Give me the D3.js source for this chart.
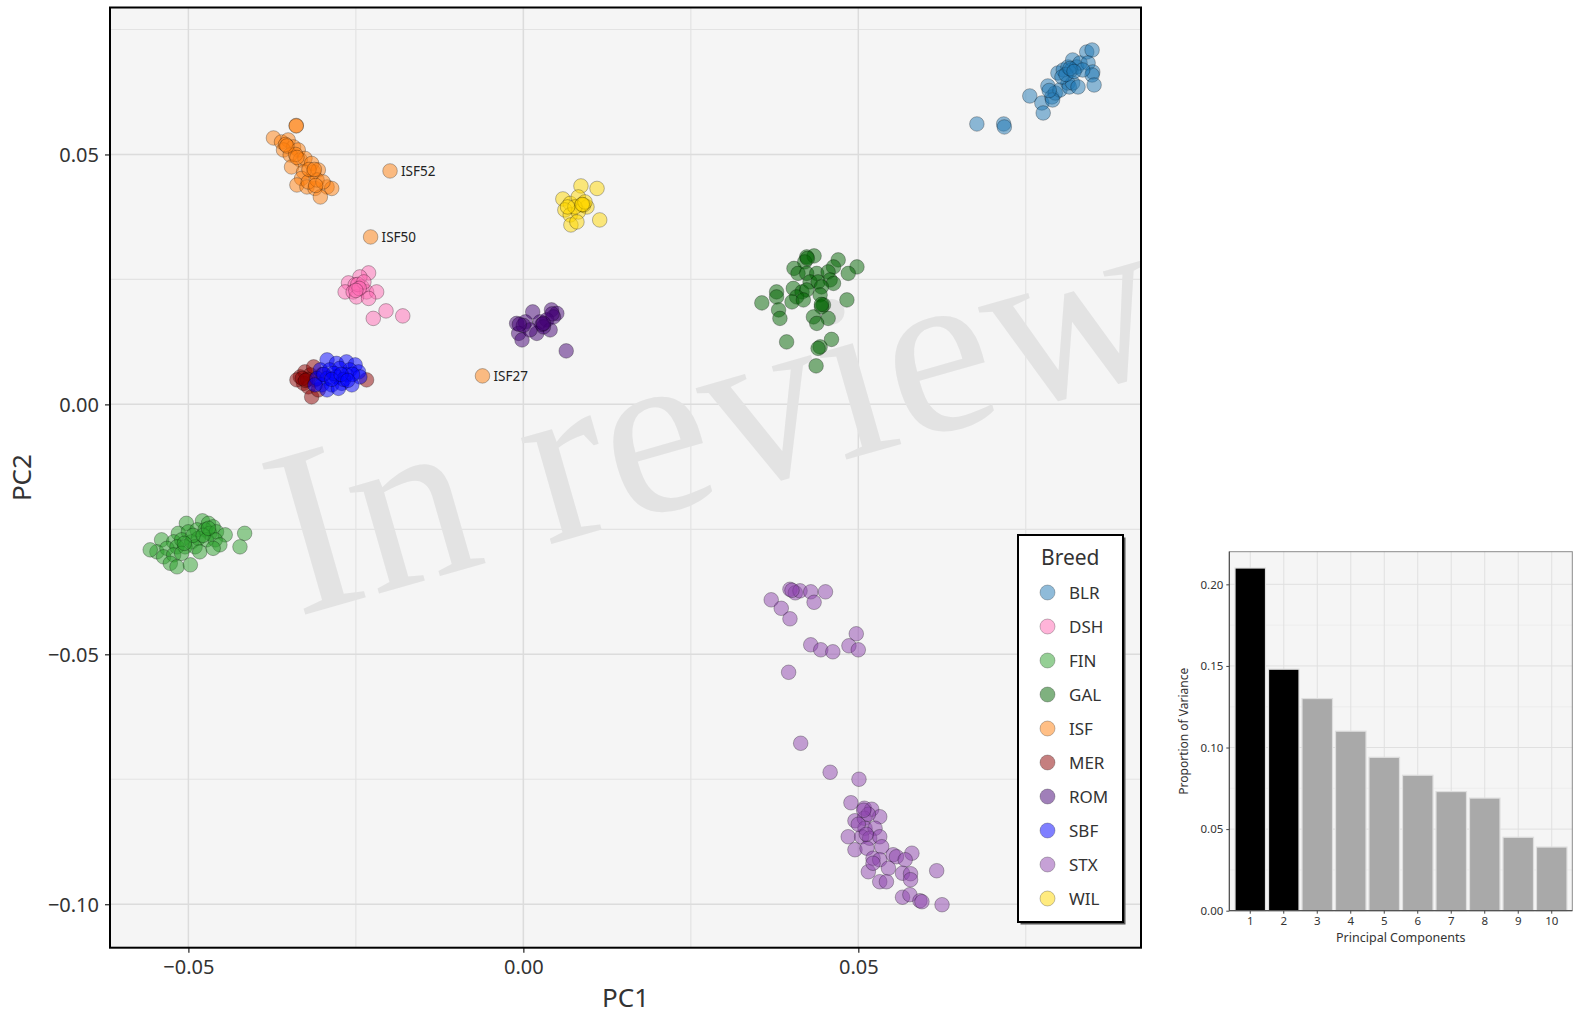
<!DOCTYPE html>
<html>
<head>
<meta charset="utf-8">
<script src="https://cdn.jsdelivr.net/npm/d3@7"></script>
<style>
  body { margin: 0; background: #fff; }
  text { font-family: 'Noto Sans', sans-serif; }
</style>
</head>
<body>
<div id="chart"></div>
<script>
// ---- data ----
const breeds = ['BLR', 'DSH', 'FIN', 'GAL', 'ISF', 'MER', 'ROM', 'SBF', 'STX', 'WIL'];

const blrPoints = [[0.0677,0.0561],[0.0717,0.0561],[0.0718,0.0555],[0.0756,0.0617],[0.0774,0.0603],[0.0776,0.0583],[0.0783,0.0637],[0.0789,0.0615],[0.0794,0.0623],[0.0801,0.0629],[0.0790,0.0609],[0.0798,0.0663],[0.0806,0.0669],[0.0813,0.0675],[0.0820,0.0689],[0.0818,0.0669],[0.0826,0.0675],[0.0831,0.0683],[0.0813,0.0643],[0.0815,0.0635],[0.0820,0.0643],[0.0828,0.0635],[0.0841,0.0705],[0.0849,0.0709],[0.0843,0.0683],[0.0850,0.0665],[0.0849,0.0659],[0.0852,0.0639],[0.0835,0.0669],[0.0804,0.0655],[0.0785,0.0628],[0.0810,0.0660],[0.0816,0.0672],[0.0822,0.0666]];

const dshPoints = [[-0.0231,0.0263],[-0.0244,0.0255],[-0.0261,0.0243],[-0.0251,0.0239],[-0.0241,0.0235],[-0.0266,0.0225],[-0.0254,0.0225],[-0.0234,0.0225],[-0.0219,0.0225],[-0.0249,0.0215],[-0.0231,0.0212],[-0.0224,0.0172],[-0.0205,0.0187],[-0.0180,0.0177],[-0.0247,0.0240],[-0.0238,0.0245],[-0.0245,0.0232],[-0.0250,0.0228]];

const finPoints = [[-0.0503,-0.0238],[-0.0479,-0.0233],[-0.0470,-0.0238],[-0.0463,-0.0245],[-0.0515,-0.0258],[-0.0500,-0.0255],[-0.0487,-0.0251],[-0.0475,-0.0251],[-0.0468,-0.0258],[-0.0458,-0.0255],[-0.0445,-0.0261],[-0.0416,-0.0258],[-0.0540,-0.0271],[-0.0522,-0.0275],[-0.0510,-0.0271],[-0.0495,-0.0275],[-0.0485,-0.0268],[-0.0473,-0.0271],[-0.0460,-0.0271],[-0.0453,-0.0281],[-0.0547,-0.0295],[-0.0532,-0.0288],[-0.0517,-0.0285],[-0.0505,-0.0285],[-0.0490,-0.0285],[-0.0483,-0.0295],[-0.0463,-0.0288],[-0.0423,-0.0285],[-0.0537,-0.0305],[-0.0522,-0.0301],[-0.0510,-0.0298],[-0.0527,-0.0318],[-0.0517,-0.0325],[-0.0497,-0.0321],[-0.0557,-0.0291],[-0.0493,-0.0262],[-0.0478,-0.0262],[-0.0506,-0.0278],[-0.0470,-0.0248]];

const galPoints = [[0.0423,0.0295],[0.0434,0.0297],[0.0420,0.0285],[0.0470,0.0289],[0.0498,0.0275],[0.0404,0.0272],[0.0463,0.0275],[0.0485,0.0262],[0.0410,0.0262],[0.0423,0.0262],[0.0438,0.0262],[0.0455,0.0265],[0.0458,0.0249],[0.0428,0.0245],[0.0440,0.0245],[0.0463,0.0242],[0.0403,0.0232],[0.0378,0.0225],[0.0445,0.0235],[0.0416,0.0225],[0.0423,0.0229],[0.0443,0.0219],[0.0408,0.0215],[0.0378,0.0215],[0.0401,0.0205],[0.0356,0.0203],[0.0418,0.0209],[0.0483,0.0209],[0.0448,0.0199],[0.0381,0.0189],[0.0445,0.0195],[0.0383,0.0172],[0.0433,0.0175],[0.0455,0.0172],[0.0438,0.0162],[0.0393,0.0125],[0.0460,0.0130],[0.0443,0.0115],[0.0440,0.0112],[0.0437,0.0077],[0.0424,0.0292],[0.0445,0.0200]];

const isfPoints = [[-0.0339,0.0558],[-0.0373,0.0533],[-0.0361,0.0525],[-0.0351,0.0529],[-0.0343,0.0515],[-0.0358,0.0509],[-0.0336,0.0509],[-0.0348,0.0499],[-0.0333,0.0489],[-0.0326,0.0492],[-0.0346,0.0475],[-0.0316,0.0482],[-0.0313,0.0465],[-0.0306,0.0469],[-0.0328,0.0465],[-0.0331,0.0452],[-0.0338,0.0439],[-0.0323,0.0435],[-0.0311,0.0432],[-0.0293,0.0435],[-0.0286,0.0432],[-0.0303,0.0415],[-0.0321,0.0445],[-0.0308,0.0449],[-0.0299,0.0445],[-0.0355,0.0520],[-0.0340,0.0500],[-0.0320,0.0470],[-0.0353,0.0517],[-0.0338,0.0494],[-0.0312,0.0470],[-0.0310,0.0438],[-0.0339,0.0557],[-0.0199,0.0467],[-0.0228,0.0335],[-0.0061,0.0057]];

const merPoints = [[-0.0333,0.0055],[-0.0326,0.0065],[-0.0318,0.0059],[-0.0328,0.0042],[-0.0321,0.0035],[-0.0316,0.0015],[-0.0311,0.0049],[-0.0306,0.0029],[-0.0234,0.0049],[-0.0313,0.0075],[-0.0338,0.0049],[-0.0322,0.0050],[-0.0300,0.0060],[-0.0330,0.0052],[-0.0325,0.0048]];

const romPoints = [[0.0014,0.0185],[0.0042,0.0189],[0.0050,0.0182],[-0.0010,0.0162],[0.0003,0.0165],[0.0025,0.0165],[0.0035,0.0169],[0.0040,0.0149],[0.0020,0.0142],[-0.0007,0.0142],[-0.0002,0.0129],[0.0064,0.0107],[0.0030,0.0155],[0.0010,0.0149],[0.0045,0.0175],[0.0000,0.0158],[0.0028,0.0160],[0.0043,0.0181],[-0.0006,0.0160],[0.0030,0.0162]];

const sbfPoints = [[-0.0293,0.0089],[-0.0279,0.0082],[-0.0264,0.0085],[-0.0251,0.0079],[-0.0303,0.0069],[-0.0289,0.0069],[-0.0274,0.0072],[-0.0259,0.0069],[-0.0246,0.0065],[-0.0308,0.0052],[-0.0293,0.0052],[-0.0279,0.0055],[-0.0264,0.0059],[-0.0244,0.0055],[-0.0301,0.0039],[-0.0286,0.0039],[-0.0271,0.0042],[-0.0256,0.0039],[-0.0293,0.0029],[-0.0276,0.0032],[-0.0311,0.0039],[-0.0283,0.0062],[-0.0268,0.0050],[-0.0298,0.0060],[-0.0255,0.0060],[-0.0286,0.0050],[-0.0272,0.0060],[-0.0262,0.0048]];

const stxPoints = [[0.0398,-0.0370],[0.0406,-0.0377],[0.0413,-0.0373],[0.0429,-0.0375],[0.0451,-0.0375],[0.0370,-0.0391],[0.0434,-0.0396],[0.0385,-0.0408],[0.0398,-0.0429],[0.0497,-0.0459],[0.0429,-0.0481],[0.0444,-0.0491],[0.0462,-0.0495],[0.0486,-0.0483],[0.0500,-0.0491],[0.0396,-0.0536],[0.0414,-0.0678],[0.0458,-0.0736],[0.0501,-0.0750],[0.0489,-0.0797],[0.0509,-0.0808],[0.0520,-0.0810],[0.0532,-0.0825],[0.0495,-0.0833],[0.0509,-0.0828],[0.0510,-0.0848],[0.0525,-0.0848],[0.0485,-0.0865],[0.0505,-0.0865],[0.0517,-0.0868],[0.0532,-0.0865],[0.0495,-0.0891],[0.0513,-0.0888],[0.0535,-0.0885],[0.0522,-0.0908],[0.0532,-0.0911],[0.0552,-0.0901],[0.0557,-0.0905],[0.0580,-0.0898],[0.0570,-0.0911],[0.0515,-0.0935],[0.0545,-0.0928],[0.0532,-0.0955],[0.0542,-0.0955],[0.0566,-0.0938],[0.0578,-0.0939],[0.0578,-0.0951],[0.0617,-0.0933],[0.0566,-0.0986],[0.0577,-0.0981],[0.0592,-0.0993],[0.0595,-0.0995],[0.0625,-0.1001],[0.0522,-0.0918],[0.0500,-0.0840],[0.0515,-0.0820],[0.0508,-0.0812],[0.0512,-0.0860],[0.0401,-0.0372]];

const wilPoints = [[0.0086,0.0437],[0.0110,0.0432],[0.0059,0.0411],[0.0070,0.0402],[0.0082,0.0415],[0.0087,0.0399],[0.0095,0.0395],[0.0062,0.0389],[0.0070,0.0379],[0.0082,0.0385],[0.0114,0.0369],[0.0071,0.0359],[0.0080,0.0365],[0.0090,0.0399],[0.0077,0.0395],[0.0092,0.0405],[0.0066,0.0395],[0.0088,0.0400]];

const breedPoints = [blrPoints, dshPoints, finPoints, galPoints, isfPoints, merPoints, romPoints, sbfPoints, stxPoints, wilPoints];

// labelled ISF outliers
const isfLabelNames = ['ISF52', 'ISF50', 'ISF27'];
const isfLabelPoints = [[-0.0199,0.0467],[-0.0228,0.0335],[-0.0061,0.0057]];

const pcTicksX = [-0.05, 0, 0.05];
const pcTicksY = [-0.10, -0.05, 0, 0.05];
const pcMinorX = [-0.025, 0.025, 0.075];
const pcMinorY = [-0.075, -0.025, 0.025, 0.075];

// scree plot
const components = ['1','2','3','4','5','6','7','8','9','10'];
const varianceValues = [0.210, 0.148, 0.130, 0.110, 0.094, 0.083, 0.073, 0.069, 0.045, 0.039];
const varTicks = [0, 0.05, 0.10, 0.15, 0.20];
const varMinor = [0.025, 0.075, 0.125, 0.175];

// ---- chart ----
const colorScale = d3.scaleOrdinal()
    .domain(breeds)
    .range(['#1f77b4', '#ff69b4', '#2ca02c', '#006400', '#ff7f0e', '#8b0000', '#420073', '#0000ff', '#8e44ad', '#ffd700']);

const svg = d3.select('#chart')
    .append('svg')
    .attr('width', 1576)
    .attr('height', 1015);

const margin = { top: 7.5, left: 110 };
const width = 1031;
const height = 940.2;

const xScale = d3.scaleLinear().domain([-0.0617, 0.0922]).range([margin.left, margin.left + width]);
const yScale = d3.scaleLinear().domain([-0.1087, 0.0794]).range([margin.top + height, margin.top]);

svg.append('defs').append('clipPath').attr('id', 'panel-clip')
    .append('rect')
    .attr('x', margin.left).attr('y', margin.top)
    .attr('width', width).attr('height', height);

svg.append('rect')
    .attr('x', margin.left).attr('y', margin.top)
    .attr('width', width).attr('height', height)
    .style('fill', '#f5f5f5');

// gridlines
const grid = svg.append('g');
grid.selectAll('.vminor').data(pcMinorX).enter().append('line')
    .attr('x1', d => xScale(d)).attr('x2', d => xScale(d))
    .attr('y1', margin.top).attr('y2', margin.top + height)
    .style('stroke', '#e3e3e3').style('stroke-width', 1.2);
grid.selectAll('.hminor').data(pcMinorY).enter().append('line')
    .attr('y1', d => yScale(d)).attr('y2', d => yScale(d))
    .attr('x1', margin.left).attr('x2', margin.left + width)
    .style('stroke', '#e3e3e3').style('stroke-width', 1.2);
grid.selectAll('.vmajor').data(pcTicksX).enter().append('line')
    .attr('x1', d => xScale(d)).attr('x2', d => xScale(d))
    .attr('y1', margin.top).attr('y2', margin.top + height)
    .style('stroke', '#dcdcdc').style('stroke-width', 1.5);
grid.selectAll('.hmajor').data(pcTicksY).enter().append('line')
    .attr('y1', d => yScale(d)).attr('y2', d => yScale(d))
    .attr('x1', margin.left).attr('x2', margin.left + width)
    .style('stroke', '#dcdcdc').style('stroke-width', 1.5);

// watermark
svg.append('g')
    .attr('clip-path', 'url(#panel-clip)')
    .append('text')
    .attr('transform', 'translate(297,617) rotate(-16)')
    .style('font-family', '"Liberation Serif", "DejaVu Serif", serif')
    .style('font-size', '240px')
    .style('fill', '#e3e3e3')
    .text('In review');

// points
breeds.forEach((breed, i) => {
    svg.append('g').selectAll('circle')
        .data(breedPoints[i])
        .enter()
        .append('circle')
        .attr('cx', d => xScale(d[0]))
        .attr('cy', d => yScale(d[1]))
        .attr('r', 7.3)
        .style('fill', colorScale(breed))
        .style('fill-opacity', 0.5)
        .style('stroke', 'rgba(0,0,0,0.35)')
        .style('stroke-width', 0.8);
});

// outlier labels
svg.append('g').selectAll('text')
    .data(isfLabelPoints)
    .enter()
    .append('text')
    .attr('x', d => xScale(d[0]) + 11)
    .attr('y', d => yScale(d[1]) + 5)
    .style('font-size', '13.5px')
    .style('fill', '#222')
    .text((d, i) => isfLabelNames[i]);

// axes
const xAxis = svg.append('g')
    .attr('transform', `translate(0,${margin.top + height})`)
    .call(d3.axisBottom(xScale).tickValues(pcTicksX).tickSize(5).tickPadding(7).tickFormat(d3.format('.2f')));
const yAxis = svg.append('g')
    .attr('transform', `translate(${margin.left},0)`)
    .call(d3.axisLeft(yScale).tickValues(pcTicksY).tickSize(5).tickPadding(6).tickFormat(d3.format('.2f')));
[xAxis, yAxis].forEach(ax => {
    ax.select('.domain').remove();
    ax.selectAll('.tick line').style('stroke', '#333').style('stroke-width', 1.3);
    ax.selectAll('.tick text').style('font-size', '20px').style('fill', '#333').style('font-family', "'Noto Sans', sans-serif");
});
yAxis.selectAll('.tick text').attr('dy', '0.36em');

svg.append('rect')
    .attr('x', margin.left).attr('y', margin.top)
    .attr('width', width).attr('height', height)
    .style('fill', 'none')
    .style('stroke', '#000')
    .style('stroke-width', 2);

svg.append('text')
    .attr('x', margin.left + width / 2)
    .attr('y', 1007)
    .attr('text-anchor', 'middle')
    .style('font-size', '26px')
    .style('fill', '#333')
    .text('PC1');

svg.append('text')
    .attr('transform', `translate(31,${margin.top + height / 2}) rotate(-90)`)
    .attr('text-anchor', 'middle')
    .style('font-size', '26px')
    .style('fill', '#333')
    .text('PC2');

// legend
const legend = svg.append('g').attr('transform', 'translate(1018,535)');
legend.append('rect')
    .attr('x', 2.5).attr('y', 2.5)
    .attr('width', 105).attr('height', 387)
    .style('fill', '#555');
legend.append('rect')
    .attr('width', 105).attr('height', 387)
    .style('fill', '#fff')
    .style('stroke', '#000')
    .style('stroke-width', 2);
legend.append('text')
    .attr('x', 23).attr('y', 30)
    .style('font-size', '21px')
    .style('fill', '#333')
    .text('Breed');
breeds.forEach((breed, i) => {
    const item = legend.append('g').attr('transform', `translate(0,${57.5 + i * 34})`);
    item.append('circle')
        .attr('cx', 29.5).attr('cy', 0).attr('r', 7.5)
        .style('fill', colorScale(breed))
        .style('fill-opacity', 0.5)
        .style('stroke', 'rgba(0,0,0,0.3)')
        .style('stroke-width', 0.8);
    item.append('text')
        .attr('x', 51).attr('y', 6)
        .style('font-size', '17px')
        .style('fill', '#333')
        .text(breed);
});

// ---- scree plot ----
const bar = { left: 1229.3, top: 551.7, right: 1572.3, bottom: 910.7 };
const xBar = d3.scaleBand().domain(components).range([1232, 1570]).padding(0.09);
const yBar = d3.scaleLinear().domain([0, 0.22]).range([bar.bottom, bar.top]);

svg.append('rect')
    .attr('x', bar.left).attr('y', bar.top)
    .attr('width', bar.right - bar.left).attr('height', bar.bottom - bar.top)
    .style('fill', '#f5f5f5');

const bgrid = svg.append('g');
bgrid.selectAll('.bminor').data(varMinor).enter().append('line')
    .attr('x1', bar.left).attr('x2', bar.right)
    .attr('y1', d => yBar(d)).attr('y2', d => yBar(d))
    .style('stroke', '#ebebeb').style('stroke-width', 0.8);
bgrid.selectAll('.bmajor').data(varTicks).enter().append('line')
    .attr('x1', bar.left).attr('x2', bar.right)
    .attr('y1', d => yBar(d)).attr('y2', d => yBar(d))
    .style('stroke', '#e0e0e0').style('stroke-width', 1);
bgrid.selectAll('.bvert').data(components).enter().append('line')
    .attr('x1', d => xBar(d) + xBar.bandwidth() / 2).attr('x2', d => xBar(d) + xBar.bandwidth() / 2)
    .attr('y1', bar.top).attr('y2', bar.bottom)
    .style('stroke', '#e0e0e0').style('stroke-width', 1);

svg.append('g').selectAll('rect')
    .data(varianceValues)
    .enter()
    .append('rect')
    .attr('x', (d, i) => xBar(components[i]))
    .attr('y', d => yBar(d))
    .attr('width', xBar.bandwidth())
    .attr('height', d => bar.bottom - yBar(d))
    .style('fill', (d, i) => i < 2 ? '#000' : '#a9a9a9')
    .style('stroke', '#dedede')
    .style('stroke-width', 1.2);

svg.append('rect')
    .attr('x', bar.left).attr('y', bar.top)
    .attr('width', bar.right - bar.left).attr('height', bar.bottom - bar.top)
    .style('fill', 'none')
    .style('stroke', '#8a8a8a')
    .style('stroke-width', 1);

const xBarAxis = svg.append('g')
    .attr('transform', `translate(0,${bar.bottom})`)
    .call(d3.axisBottom(xBar).tickSize(3).tickPadding(3));
const yBarAxis = svg.append('g')
    .attr('transform', `translate(${bar.left},0)`)
    .call(d3.axisLeft(yBar).tickValues(varTicks).tickSize(3).tickPadding(3).tickFormat(d3.format('.2f')));
[xBarAxis, yBarAxis].forEach(ax => {
    ax.select('.domain').style('stroke', '#444').style('stroke-width', 1);
    ax.selectAll('.tick line').style('stroke', '#444');
    ax.selectAll('.tick text').style('font-size', '11.5px').style('fill', '#333').style('font-family', "'Noto Sans', sans-serif");
});
xBarAxis.select('.domain').attr('d', `M${bar.left},0H${bar.right}`);
yBarAxis.select('.domain').attr('d', `M0,${bar.bottom}V${bar.top}`);

svg.append('text')
    .attr('x', (bar.left + bar.right) / 2)
    .attr('y', 942)
    .attr('text-anchor', 'middle')
    .style('font-size', '12.5px')
    .style('fill', '#333')
    .text('Principal Components');

svg.append('text')
    .attr('transform', `translate(1188,${(bar.top + bar.bottom) / 2}) rotate(-90)`)
    .attr('text-anchor', 'middle')
    .style('font-size', '12px')
    .style('fill', '#333')
    .text('Proportion of Variance');
</script>
</body>
</html>
